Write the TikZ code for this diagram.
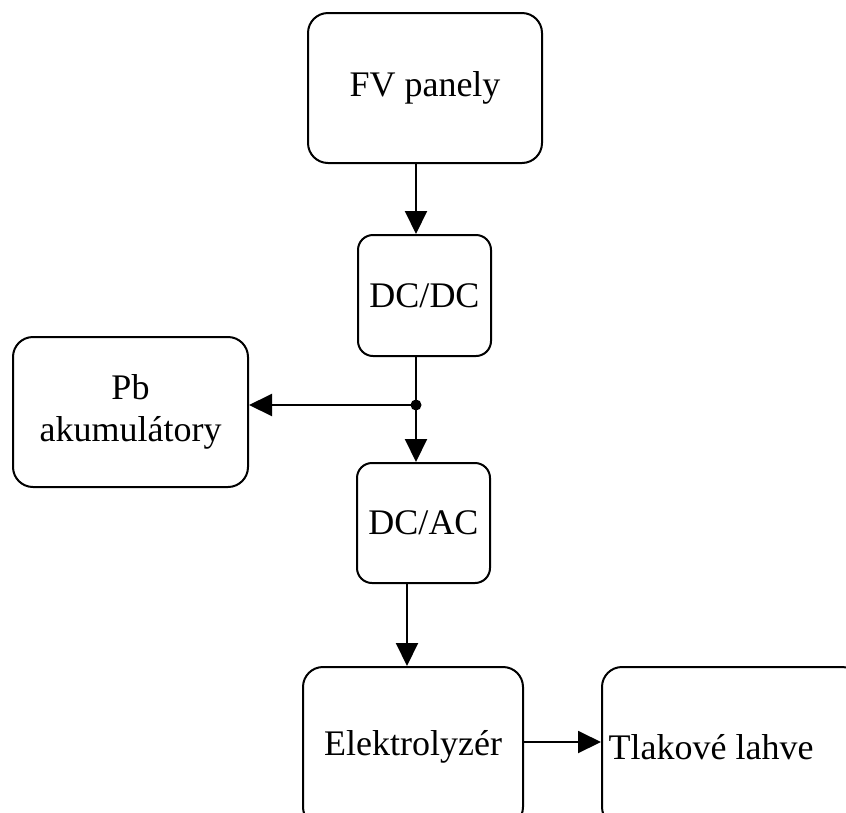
\documentclass[tikz,border=0pt]{standalone}
\usepackage{fontspec}
\setmainfont{Liberation Serif}
\usetikzlibrary{arrows.meta}
\begin{document}
\begin{tikzpicture}[x=1pt,y=-1pt,
  blk/.style={draw=black,line width=2pt,rounded corners=20pt,align=center,inner sep=0pt,
    font=\fontsize{36}{42}\selectfont},
  conn/.style={line width=2pt,-{Triangle[length=23pt,width=22pt]}},
  plain/.style={line width=2pt},
  txt/.style={font=\fontsize{36}{42}\selectfont,inner sep=0pt}]
\useasboundingbox (0,0) rectangle (846,812);
\clip (0,0) rectangle (846,812);
\node[blk,minimum width=234pt,minimum height=150pt] (fv) at (425,88) {FV panely};
\node[blk,rounded corners=15pt,minimum width=133pt,minimum height=121pt] (dcdc) at (424.5,295.5) {DC/DC};
\node[blk,minimum width=235pt,minimum height=150pt] (pb) at (130.5,412) {Pb\\akumulátory};
\node[blk,rounded corners=15pt,minimum width=133pt,minimum height=120pt] (dcac) at (423.5,523) {DC/AC};
\node[blk,minimum width=220pt,minimum height=160pt] (elk) at (413,747) {Elektrolyzér};
\node[blk,minimum width=260pt,minimum height=160pt] (tl) at (732,747) {};
\node[txt] (tltext) at (711,747) {Tlakové lahve};
\coordinate (j) at (416,405);
\coordinate (k) at (407,625);
\coordinate (m) at (560,742);
\draw[conn] (j |- fv.south) -- (j |- dcdc.north);
\draw[plain] (j |- dcdc.south) -- (j);
\draw[conn] (j) -- (pb.east |- j);
\draw[conn] (j) -- (j |- dcac.north);
\fill (j) circle (5.5pt);
\draw[conn] (k |- dcac.south) -- (k |- elk.north);
\draw[conn] (elk.east |- m) -- (tl.west |- m);
\end{tikzpicture}
\end{document}
